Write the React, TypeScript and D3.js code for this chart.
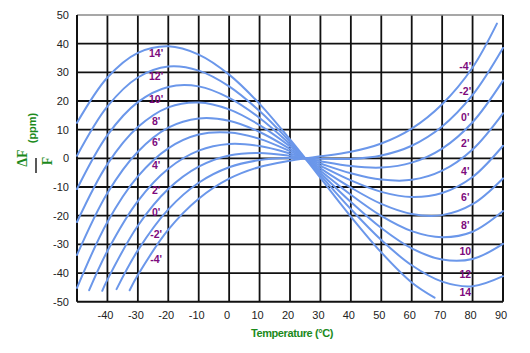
import * as d3 from "d3"

// temperature (°C) / frequency deviation (ppm) pairs, one list per cut angle
const curve14: [number, number][] = [[-50, 12.4], [-40, 28.2], [-30, 36.8], [-20, 39.1], [-10, 36.2], [0, 29.2], [10, 19.0], [20, 6.6], [25, 0], [30, -6.8], [40, -20.3], [50, -32.8], [60, -43.3], [67.5, -48.6]]
const curve12: [number, number][] = [[-50, 0.9], [-40, 18.1], [-30, 28.2], [-20, 32.0], [-10, 30.6], [0, 25.1], [10, 16.5], [20, 5.8], [25, 0], [30, -5.9], [40, -17.7], [50, -28.5], [60, -37.3], [70, -43.0], [80, -44.6], [90, -41.1]]
const curve10: [number, number][] = [[-50, -10.7], [-40, 8.1], [-30, 19.6], [-20, 24.9], [-10, 25.1], [0, 21.1], [10, 14.1], [20, 5.0], [25, 0], [30, -5.1], [40, -15.2], [50, -24.3], [60, -31.4], [70, -35.3], [80, -35.1], [90, -29.8]]
const curve8: [number, number][] = [[-50, -22.2], [-40, -2.0], [-30, 10.9], [-20, 17.8], [-10, 19.5], [0, 17.1], [10, 11.6], [20, 4.2], [25, 0], [30, -4.3], [40, -12.7], [50, -20.1], [60, -25.4], [70, -27.5], [80, -25.6], [90, -18.4]]
const curve6: [number, number][] = [[-50, -33.7], [-40, -12.1], [-30, 2.3], [-20, 10.7], [-10, 13.9], [0, 13.1], [10, 9.2], [20, 3.3], [25, 0], [30, -3.5], [40, -10.2], [50, -15.9], [60, -19.4], [70, -19.8], [80, -16.0], [90, -7.0]]
const curve4: [number, number][] = [[-50, -45.2], [-40, -22.2], [-30, -6.3], [-20, 3.5], [-10, 8.3], [0, 9.0], [10, 6.8], [20, 2.5], [25, 0], [30, -2.6], [40, -7.7], [50, -11.7], [60, -13.5], [70, -12.1], [80, -6.5], [90, 4.4]]
const curve2: [number, number][] = [[-46, -46.0], [-40, -32.3], [-30, -14.9], [-20, -3.6], [-10, 2.7], [0, 5.0], [10, 4.3], [20, 1.7], [25, 0], [30, -1.8], [40, -5.2], [50, -7.4], [60, -7.5], [70, -4.3], [80, 3.1], [90, 15.7]]
const curve0: [number, number][] = [[-41.7, -46.2], [-40, -42.3], [-30, -23.5], [-20, -10.7], [-10, -2.9], [0, 1.0], [10, 1.9], [20, 0.9], [25, 0], [30, -1.0], [40, -2.7], [50, -3.2], [60, -1.5], [70, 3.4], [80, 12.6], [90, 27.1]]
const curveM2: [number, number][] = [[-37, -45.6], [-30, -32.1], [-20, -17.8], [-10, -8.5], [0, -3.1], [10, -0.6], [20, 0.1], [25, 0], [30, -0.1], [40, -0.2], [50, 1.0], [60, 4.4], [70, 11.1], [80, 22.1], [90, 38.5]]
const curveM4: [number, number][] = [[-32.7, -46.0], [-30, -40.7], [-20, -24.9], [-10, -14.1], [0, -7.1], [10, -3.0], [20, -0.8], [25, 0], [30, 0.7], [40, 2.3], [50, 5.2], [60, 10.4], [70, 18.9], [80, 31.7], [88, 47.0]]

const curves = [curve14, curve12, curve10, curve8, curve6, curve4, curve2, curve0, curveM2, curveM4]

// angle labels on the left (near -24 °C) and on the right (near 77.6 °C)
const leftLabels = ["14'", "12'", "10'", "8'", "6'", "4'", "2'", "0'", "-2'", "-4'"]
const leftLabelPpm = [36.8, 28.7, 20.7, 13.0, 5.6, -2.3, -11.0, -18.8, -26.4, -35.1]
const rightLabels = ["-4'", "-2'", "0'", "2'", "4'", "6'", "8'", "10", "12", "14"]
const rightLabelPpm = [32.2, 23.5, 14.2, 5.4, -4.7, -13.7, -23.3, -32.3, -40.5, -46.7]

const xTicks = [-40, -30, -20, -10, 0, 10, 20, 30, 40, 50, 60, 70, 80, 90]
const yTicks = [-50, -40, -30, -20, -10, 0, 10, 20, 30, 40, 50]

export default function App() {
  const width = 530
  const height = 353
  const x = d3.scaleLinear().domain([-50, 90]).range([77, 503])
  const y = d3.scaleLinear().domain([-50, 50]).range([301.7, 15])

  const line = d3
    .line<[number, number]>()
    .x((d) => x(d[0]))
    .y((d) => y(d[1]))
    .curve(d3.curveCatmullRom.alpha(0.5))

  const font = "Arial, 'Liberation Sans', sans-serif"
  const serif = "'Times New Roman', 'Liberation Serif', serif"
  const green = "#1b8a1b"
  const purple = "#7d0a7d"

  return (
    <>
      <style>{`body{margin:0;background:#fff}`}</style>
      <svg width={width} height={height} style={{ display: "block", fontFamily: font }}>
        <rect width={width} height={height} fill="#fff" />

        {/* grid */}
        {d3.range(-40, 90, 10).map((t) => (
          <line key={"v" + t} x1={x(t)} x2={x(t)} y1={y(50)} y2={y(-50)} stroke="#111" strokeWidth={1.8} />
        ))}
        {d3.range(-40, 50, 10).map((p) => (
          <line key={"h" + p} x1={x(-50)} x2={x(90)} y1={y(p)} y2={y(p)} stroke="#111" strokeWidth={1.8} />
        ))}
        <line x1={x(-50)} x2={x(90)} y1={y(50)} y2={y(50)} stroke="#8a8a8a" strokeWidth={1.5} />
        <line x1={x(-50)} x2={x(90)} y1={y(-50)} y2={y(-50)} stroke="#111" strokeWidth={2} />
        <line x1={x(-50)} x2={x(-50)} y1={y(50)} y2={y(-50)} stroke="#111" strokeWidth={2} />
        <line x1={x(90)} x2={x(90)} y1={y(50)} y2={y(-50)} stroke="#111" strokeWidth={2} />

        {/* curves */}
        {curves.map((c, i) => (
          <path key={i} d={line(c) || ""} fill="none" stroke="#6b97ea" strokeWidth={2} strokeLinecap="round" />
        ))}

        {/* angle labels */}
        {leftLabels.map((l, i) => (
          <text key={"l" + i} x={x(-24)} y={y(leftLabelPpm[i])} dy="0.35em" textAnchor="middle"
            fontSize={10.5} fontWeight="bold" fill={purple}>{l}</text>
        ))}
        {rightLabels.map((l, i) => (
          <text key={"r" + i} x={x(77.6)} y={y(rightLabelPpm[i])} dy="0.35em" textAnchor="middle"
            fontSize={10.5} fontWeight="bold" fill={purple}>{l}</text>
        ))}

        {/* tick labels */}
        {yTicks.map((p) => (
          <text key={"yt" + p} x={69} y={y(p)} dy="0.35em" textAnchor="end" fontSize={11} fill="#222">{p}</text>
        ))}
        {xTicks.map((t) => (
          <text key={"xt" + t} x={x(t) - 2} y={315} dy="0.35em" textAnchor="middle" fontSize={11} fill="#222">{t}</text>
        ))}

        {/* axis titles */}
        <text x={292} y={333} dy="0.35em" textAnchor="middle" fontSize={11} fontWeight="bold" fill={green}
          letterSpacing={-0.4}>Temperature (°C)</text>
        <g fill={green} fontWeight="bold">
          <text transform="translate(32,128) rotate(-90)" dy="0.35em" textAnchor="middle" fontSize={11}>(ppm)</text>
          <text transform="translate(22,158) rotate(-90)" dy="0.35em" textAnchor="middle" fontSize={14} fontFamily={serif}>ΔF</text>
          <line x1={36} x2={36} y1={158} y2={173} stroke="#222" strokeWidth={1.5} />
          <text transform="translate(47,161) rotate(-90)" dy="0.35em" textAnchor="middle" fontSize={14} fontFamily={serif}>F</text>
        </g>
      </svg>
    </>
  )
}
